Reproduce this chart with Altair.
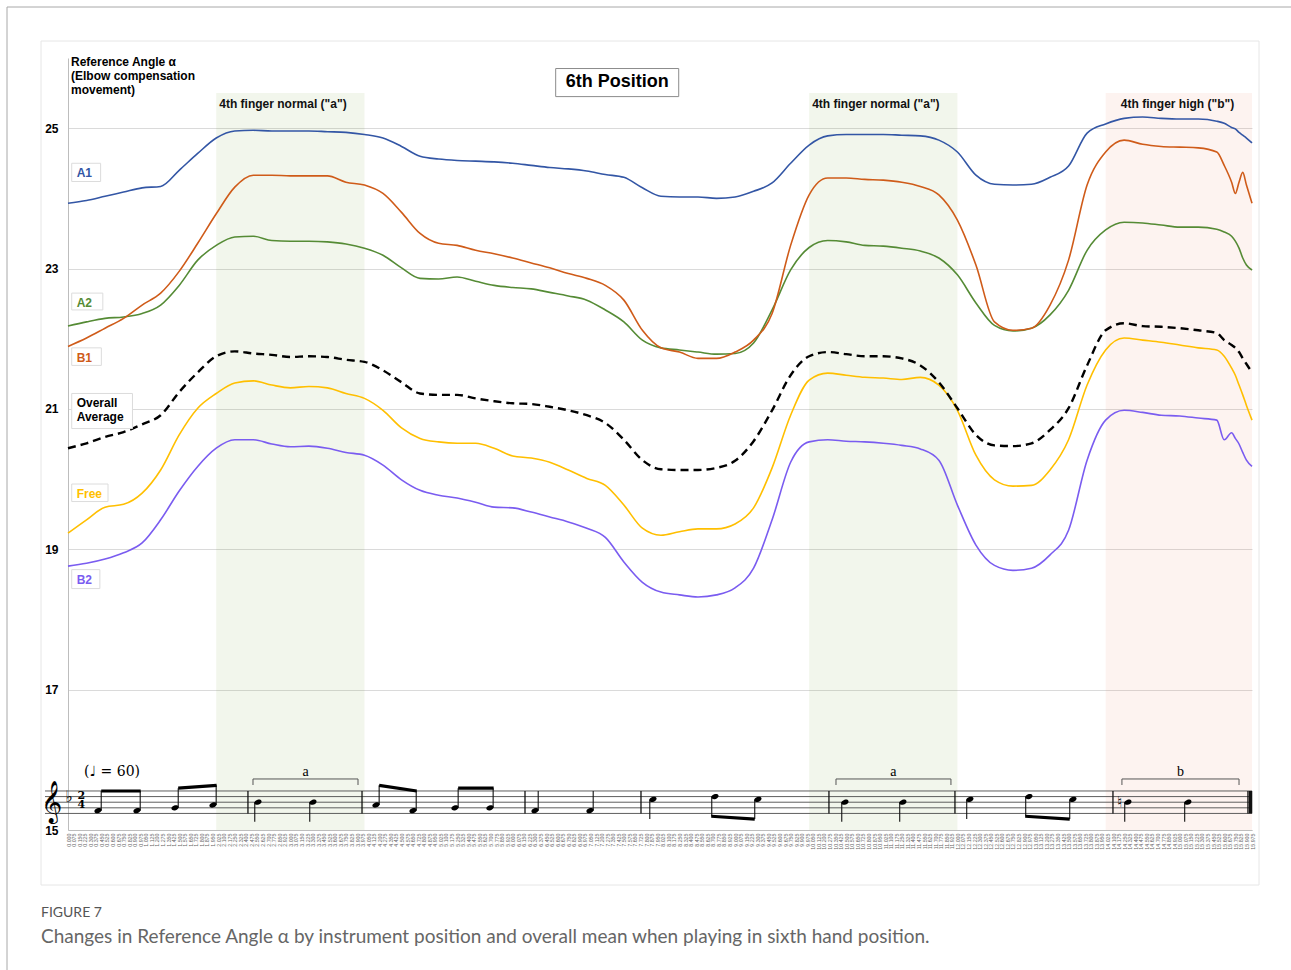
import altair as alt
import pandas as pd

# ---------------------------------------------------------------- data
seconds = [0.0, 0.25, 0.5, 0.75, 1.0, 1.25, 1.5, 1.75, 2.0, 2.25,
           2.5, 2.75, 3.0, 3.25, 3.5, 3.75, 4.0, 4.25, 4.5, 4.75,
           5.0, 5.25, 5.5, 5.75, 6.0, 6.25, 6.5, 6.75, 7.0, 7.25,
           7.5, 7.75, 8.0, 8.25, 8.5, 8.75, 9.0, 9.25, 9.5, 9.75,
           10.0, 10.25, 10.5, 10.75, 11.0, 11.25, 11.5, 11.75, 12.0, 12.25,
           12.5, 12.75, 13.0, 13.25, 13.5, 13.75, 14.0, 14.25, 14.5, 14.75,
           15.0, 15.25, 15.5, 15.6, 15.7, 15.75, 15.8, 15.85, 15.9, 15.975]

a1 = [23.93, 23.97, 24.03, 24.09, 24.15, 24.17, 24.40, 24.64, 24.86, 24.96,
      24.97, 24.96, 24.96, 24.96, 24.95, 24.94, 24.91, 24.86, 24.74, 24.60,
      24.56, 24.54, 24.53, 24.52, 24.50, 24.47, 24.44, 24.42, 24.39, 24.34,
      24.30, 24.15, 24.03, 24.02, 24.02, 24.00, 24.02, 24.10, 24.22, 24.50,
      24.76, 24.89, 24.91, 24.91, 24.91, 24.90, 24.89, 24.83, 24.66, 24.33,
      24.20, 24.19, 24.20, 24.30, 24.46, 24.93, 25.06, 25.14, 25.16, 25.14,
      25.13, 25.13, 25.10, 25.07, 25.01, 24.99, 24.94, 24.90, 24.86, 24.79]

b1 = [21.89, 22.01, 22.15, 22.29, 22.48, 22.65, 22.96, 23.36, 23.78, 24.16,
      24.33, 24.33, 24.32, 24.32, 24.32, 24.23, 24.19, 24.07, 23.80, 23.50,
      23.36, 23.33, 23.26, 23.21, 23.15, 23.08, 23.01, 22.93, 22.86, 22.76,
      22.55, 22.12, 21.87, 21.81, 21.72, 21.72, 21.81, 21.98, 22.36, 23.33,
      24.05, 24.29, 24.29, 24.27, 24.26, 24.23, 24.17, 24.05, 23.69, 23.05,
      22.24, 22.12, 22.15, 22.48, 23.12, 24.19, 24.66, 24.83, 24.77, 24.74,
      24.73, 24.72, 24.66, 24.47, 24.23, 24.07, 24.23, 24.37, 24.19, 23.93]

a2 = [22.18, 22.24, 22.29, 22.31, 22.36, 22.48, 22.76, 23.12, 23.33, 23.45,
      23.46, 23.40, 23.39, 23.39, 23.38, 23.35, 23.29, 23.19, 23.01, 22.86,
      22.85, 22.88, 22.82, 22.76, 22.73, 22.71, 22.66, 22.61, 22.55, 22.41,
      22.24, 21.98, 21.87, 21.84, 21.81, 21.78, 21.79, 21.94, 22.41, 22.98,
      23.30, 23.40, 23.38, 23.33, 23.32, 23.29, 23.25, 23.15, 22.91, 22.51,
      22.19, 22.11, 22.15, 22.34, 22.69, 23.26, 23.55, 23.66, 23.65, 23.62,
      23.59, 23.59, 23.56, 23.52, 23.46, 23.39, 23.29, 23.15, 23.05, 22.98]

overall = [20.44, 20.51, 20.60, 20.67, 20.78, 20.91, 21.24, 21.52, 21.75, 21.82,
           21.79, 21.77, 21.74, 21.75, 21.74, 21.70, 21.67, 21.55, 21.38, 21.22,
           21.20, 21.20, 21.15, 21.11, 21.08, 21.07, 21.03, 20.98, 20.91, 20.80,
           20.56, 20.27, 20.14, 20.13, 20.13, 20.16, 20.26, 20.54, 20.98, 21.48,
           21.75, 21.81, 21.78, 21.75, 21.75, 21.72, 21.62, 21.38, 21.01, 20.63,
           20.48, 20.47, 20.51, 20.70, 21.01, 21.62, 22.12, 22.22, 22.18, 22.17,
           22.15, 22.12, 22.08, 21.98, 21.91, 21.87, 21.81, 21.72, 21.64, 21.52]

free = [19.23, 19.42, 19.60, 19.64, 19.80, 20.13, 20.63, 21.01, 21.22, 21.37,
        21.40, 21.34, 21.30, 21.32, 21.30, 21.22, 21.15, 20.98, 20.73, 20.58,
        20.53, 20.51, 20.51, 20.44, 20.33, 20.30, 20.24, 20.13, 20.01, 19.91,
        19.63, 19.30, 19.20, 19.25, 19.29, 19.29, 19.36, 19.59, 20.16, 20.91,
        21.41, 21.51, 21.48, 21.45, 21.44, 21.42, 21.45, 21.34, 20.98, 20.34,
        19.99, 19.90, 19.91, 20.13, 20.56, 21.34, 21.84, 22.01, 21.98, 21.95,
        21.91, 21.87, 21.84, 21.75, 21.58, 21.48, 21.34, 21.20, 21.05, 20.84]

b2 = [18.76, 18.80, 18.86, 18.95, 19.09, 19.42, 19.83, 20.18, 20.44, 20.56,
      20.56, 20.50, 20.46, 20.47, 20.44, 20.38, 20.34, 20.20, 19.99, 19.84,
      19.77, 19.73, 19.67, 19.60, 19.59, 19.53, 19.46, 19.39, 19.30, 19.17,
      18.82, 18.53, 18.39, 18.35, 18.32, 18.35, 18.45, 18.73, 19.42, 20.24,
      20.53, 20.56, 20.54, 20.53, 20.51, 20.48, 20.43, 20.27, 19.63, 19.06,
      18.77, 18.70, 18.73, 18.92, 19.27, 20.27, 20.84, 20.98, 20.95, 20.91,
      20.90, 20.87, 20.84, 20.56, 20.66, 20.58, 20.50, 20.38, 20.27, 20.18]

series_names = ["A1", "A2", "B1", "Free", "B2"]
series_values = [a1, a2, b1, free, b2]
series_colors = ["#3356a5", "#558b35", "#cf5b19", "#ffbf00", "#7a5cf0"]

y_ticks = [15, 17, 19, 21, 23, 25]
x_ticks = [round(i * 0.075, 3) for i in range(214)]

# finger-position sections (seconds)
region_start = [2.0, 10.0, 14.0]
region_end = [4.0, 12.0, 15.975]
region_label = ['4th finger normal ("a")', '4th finger normal ("a")', '4th finger high ("b")']
region_label_x = [2.9, 10.9, 14.97]
region_fill = ["#7da541", "#7da541", "#eb8769"]

# series name tags drawn at the left edge
tag_text = ["A1", "A2", "B1", "Overall\nAverage", "Free", "B2"]
tag_color = ["#3356a5", "#558b35", "#cf5b19", "#000000", "#ffbf00", "#7a5cf0"]
tag_top = [24.50, 22.65, 21.87, 21.22, 19.93, 18.71]
tag_bottom = [24.24, 22.41, 21.62, 20.72, 19.68, 18.44]
tag_right = [0.44, 0.47, 0.45, 0.87, 0.54, 0.43]

# melody (F major, 2/4, quarter = 60): onset on the page (s), staff step above E4, stem direction
note_time = [0.405, 0.931, 1.444, 1.956, 2.563, 3.305, 4.155, 4.655, 5.221, 5.693,
             6.301, 7.043, 7.893, 8.729, 9.309, 10.483, 11.265, 12.169, 12.965, 13.559,
             14.301, 15.11]
note_step = [1, 1, 2, 3, 4, 4, 3, 1, 2, 2, 1, 1, 5, 6, 5, 4, 4, 5, 6, 5, 4, 4]
note_stem = ["up", "up", "up", "up", "down", "down", "up", "up", "up", "up",
             "up", "up", "down", "down", "down", "down", "down", "down", "down", "down",
             "down", "down"]
beam_pairs = [(0, 1), (2, 3), (6, 7), (8, 9), (13, 14), (18, 19)]
bar_time = [2.428, 3.967, 6.166, 7.731, 10.267, 11.967, 14.099, 15.92]
bracket_start = [2.496, 10.362, 14.22]
bracket_end = [3.913, 11.913, 15.80]
bracket_text = ["a", "a", "b"]

STAFF_BASE = 15.236   # bottom staff line on the angle axis
STEP = 0.04           # one diatonic step
STEM = 7              # stem length in steps

# ---------------------------------------------------------------- frames
rows = []
for name, vals, col in zip(series_names, series_values, series_colors):
    for t, v in zip(seconds, vals):
        rows.append({"series": name, "t": t, "v": v, "col": col})
lines_df = pd.DataFrame(rows)
avg_df = pd.DataFrame({"t": seconds, "v": overall})

regions_df = pd.DataFrame({"start": region_start, "end": region_end,
                           "lo": 15.0, "hi": 25.5, "fill": region_fill,
                           "label": region_label, "mid": region_label_x})
regions_df["ly"] = 25.35

tags_df = pd.DataFrame({"text": tag_text, "col": tag_color, "top": tag_top,
                        "bottom": tag_bottom, "right": tag_right})
tags_df["left"] = 0.05
tags_df["tx"] = 0.117
tags_df["ty"] = tags_df["top"] - 0.07

xs = alt.Scale(domain=[0, 15.975], nice=False, zero=False)
ys = alt.Scale(domain=[15, 26], nice=False, zero=False)

x_axis = alt.Axis(values=x_ticks, format=".3f", labelAngle=270, labelFontSize=5.3,
                  labelColor="#666666", labelOverlap=False, labelFlush=False,
                  labelPadding=3, ticks=False, grid=False, domainColor="#bdbdbd",
                  title=None)
y_axis = alt.Axis(values=y_ticks, labelFontSize=12, labelFontWeight="bold",
                  labelColor="#000000", labelPadding=10, ticks=False,
                  labelFont="Liberation Sans",
                  domainColor="#bdbdbd", gridColor="#dadada", title=None)


# every layer carries the same axis definition so the merged axes agree
def X(field):
    return alt.X(field, type="quantitative", scale=xs, axis=x_axis)


def Y(field):
    return alt.Y(field, type="quantitative", scale=ys, axis=y_axis)


one = pd.DataFrame({"k": [0]})

# page frame and caption (pixel positions relative to the plot origin)
frame_top = alt.Chart(one).mark_rule(color="#a8a8a8", strokeWidth=1).encode(
    x=alt.value(-61), x2=alt.value(1240), y=alt.value(-51))
frame_left = alt.Chart(one).mark_rule(color="#a8a8a8", strokeWidth=1).encode(
    x=alt.value(-61), y=alt.value(-51), y2=alt.value(930))
panel = alt.Chart(one).mark_rect(fillOpacity=0, stroke="#e6e6e6", strokeWidth=1).encode(
    x=alt.value(-27), x2=alt.value(1191), y=alt.value(-17), y2=alt.value(827))
fig_label = alt.Chart(one).mark_text(text="FIGURE 7", font="Lato", fontSize=14,
                                     color="#555555", align="left", baseline="middle").encode(
    x=alt.value(-27), y=alt.value(855))
caption = alt.Chart(one).mark_text(
    text="Changes in Reference Angle \u03b1 by instrument position and overall mean when playing in sixth hand position.",
    font="Lato", fontSize=19, color="#666666", align="left", baseline="middle").encode(
    x=alt.value(-27), y=alt.value(879))

# shaded sections
shade = alt.Chart(regions_df).mark_rect(opacity=0.1).encode(
    x=X("start:Q"), x2="end:Q", y=Y("lo:Q"), y2="hi:Q",
    color=alt.Color("fill:N", scale=None))
shade_text = alt.Chart(regions_df).mark_text(fontSize=12, fontWeight="bold",
                                             color="#111111", baseline="middle").encode(
    x=X("mid:Q"), y=Y("ly:Q"), text="label:N")

# ---------------------------------------------------------------- score
staff_df = pd.DataFrame({"step": [0, 2, 4, 6, 8]})
staff_df["y"] = STAFF_BASE + staff_df["step"] * STEP
staff_df["x1"] = -0.31
staff_df["x2"] = 15.975
staff = alt.Chart(staff_df).mark_rule(color="#4d4d4d", strokeWidth=0.9).encode(
    x=X("x1:Q"), x2="x2:Q", y=Y("y:Q"))

bars_df = pd.DataFrame({"t": bar_time})
bars_df["y1"] = STAFF_BASE
bars_df["y2"] = STAFF_BASE + 8 * STEP
bars = alt.Chart(bars_df).mark_rule(color="#111111", strokeWidth=1.3).encode(
    x=X("t:Q"), y=Y("y1:Q"), y2="y2:Q")
final_bar = alt.Chart(bars_df.tail(1).assign(t=15.955)).mark_rule(
    color="#111111", strokeWidth=3.5).encode(x=X("t:Q"), y=Y("y1:Q"), y2="y2:Q")

notes_df = pd.DataFrame({"t": note_time, "step": note_step, "stem": note_stem})
notes_df["y"] = STAFF_BASE + notes_df["step"] * STEP
notes_df["end"] = STAFF_BASE + (notes_df["step"] + notes_df["stem"].map({"up": STEM, "down": -STEM})) * STEP

ellipse = "M -1 0 A 1 0.66 0 1 1 1 0 A 1 0.66 0 1 1 -1 0 Z"
heads = alt.Chart(notes_df).mark_point(shape=ellipse, filled=True, size=56, angle=340,
                                       color="#000000", opacity=1).encode(
    x=X("t:Q"), y=Y("y:Q"))
stems_up = alt.Chart(notes_df[notes_df["stem"] == "up"]).mark_rule(
    color="#111111", strokeWidth=1.1, xOffset=3.2).encode(x=X("t:Q"), y=Y("y:Q"), y2="end:Q")
stems_down = alt.Chart(notes_df[notes_df["stem"] == "down"]).mark_rule(
    color="#111111", strokeWidth=1.1, xOffset=-3.2).encode(x=X("t:Q"), y=Y("y:Q"), y2="end:Q")

beam_rows = []
for i, j in beam_pairs:
    beam_rows.append({"t1": note_time[i], "t2": note_time[j],
                      "e1": notes_df["end"][i], "e2": notes_df["end"][j],
                      "stem": note_stem[i]})
beams_df = pd.DataFrame(beam_rows)
beams_up = alt.Chart(beams_df[beams_df["stem"] == "up"]).mark_rule(
    color="#000000", strokeWidth=3.2, xOffset=3.2, x2Offset=3.7).encode(
    x=X("t1:Q"), x2="t2:Q", y=Y("e1:Q"), y2="e2:Q")
beams_down = alt.Chart(beams_df[beams_df["stem"] == "down"]).mark_rule(
    color="#000000", strokeWidth=3.2, xOffset=-3.7, x2Offset=-3.2).encode(
    x=X("t1:Q"), x2="t2:Q", y=Y("e1:Q"), y2="e2:Q")

# clef, key signature, accidental
sym_df = pd.DataFrame({
    "t": [-0.22, 0.015, 14.19],
    "step": [3.8, 6.0, 4],
    "glyph": ["\U0001D11E", "\u266d", "\u266e"],
    "size": [36, 16, 15],
})
sym_df["y"] = STAFF_BASE + sym_df["step"] * STEP
symbols = alt.Chart(sym_df).mark_text(font="DejaVu Sans", color="#000000",
                                      baseline="middle", align="center").encode(
    x=X("t:Q"), y=Y("y:Q"), text="glyph:N",
    size=alt.Size("size:Q", scale=None))

# time signature 2/4, stacked in one text block
tsig_df = pd.DataFrame({"t": [0.18], "step": [8.35], "digits": ["2\n4"]})
tsig_df["y"] = STAFF_BASE + tsig_df["step"] * STEP
tsig = alt.Chart(tsig_df).mark_text(font="DejaVu Serif", fontSize=11, fontWeight="bold",
                                    color="#000000", baseline="top", lineBreak="\n",
                                    lineHeight=9).encode(
    x=X("t:Q"), y=Y("y:Q"), text="digits:N")

tempo_df = pd.DataFrame({"t": [0.594], "y": [15.826], "txt": ["(\u2669 = 60)"]})
tempo = alt.Chart(tempo_df).mark_text(font="DejaVu Serif", fontSize=14,
                                      color="#000000", baseline="middle").encode(
    x=X("t:Q"), y=Y("y:Q"), text="txt:N")

brk_df = pd.DataFrame({"s": bracket_start, "e": bracket_end, "txt": bracket_text})
brk_df["top"] = 15.727
brk_df["low"] = 15.641
brk_df["mid"] = (brk_df["s"] + brk_df["e"]) / 2
brk_df["ly"] = 15.826
brk_h = alt.Chart(brk_df).mark_rule(color="#555555", strokeWidth=1).encode(
    x=X("s:Q"), x2="e:Q", y=Y("top:Q"))
brk_l = alt.Chart(brk_df).mark_rule(color="#555555", strokeWidth=1).encode(
    x=X("s:Q"), y=Y("top:Q"), y2="low:Q")
brk_r = alt.Chart(brk_df).mark_rule(color="#555555", strokeWidth=1).encode(
    x=X("e:Q"), y=Y("top:Q"), y2="low:Q")
brk_t = alt.Chart(brk_df).mark_text(font="Liberation Serif", fontSize=14,
                                    color="#000000", baseline="middle").encode(
    x=X("mid:Q"), y=Y("ly:Q"), text="txt:N")

# ---------------------------------------------------------------- curves
curves = alt.Chart(lines_df).mark_line(strokeWidth=1.6, interpolate="monotone").encode(
    x=X("t:Q"), y=Y("v:Q"),
    color=alt.Color("col:N", scale=None), detail="series:N")
avg_line = alt.Chart(avg_df).mark_line(strokeWidth=2.4, color="#000000",
                                       strokeDash=[8, 5], interpolate="monotone").encode(
    x=X("t:Q"), y=Y("v:Q"))

tag_boxes = alt.Chart(tags_df).mark_rect(fill="#ffffff", stroke="#dcdcdc", strokeWidth=1).encode(
    x=X("left:Q"), x2="right:Q", y=Y("top:Q"), y2="bottom:Q")
tag_text_layer = alt.Chart(tags_df).mark_text(fontSize=12, fontWeight="bold", align="left",
                                              baseline="top", lineBreak="\n",
                                              lineHeight=14).encode(
    x=X("tx:Q"), y=Y("ty:Q"), text="text:N", color=alt.Color("col:N", scale=None))

title_df = pd.DataFrame({"x1": [6.58], "x2": [8.24], "y1": [25.85], "y2": [25.45],
                         "tx": [7.41], "ty": [25.66], "txt": ["6th Position"]})
title_box = alt.Chart(title_df).mark_rect(fill="#ffffff", stroke="#8c8c8c", strokeWidth=1).encode(
    x=X("x1:Q"), x2="x2:Q", y=Y("y1:Q"), y2="y2:Q")
title_txt = alt.Chart(title_df).mark_text(fontSize=18, fontWeight="bold", color="#000000",
                                          baseline="middle").encode(
    x=X("tx:Q"), y=Y("ty:Q"), text="txt:N")

ytitle_df = pd.DataFrame({"t": [0.04], "v": [26.02],
                          "txt": ["Reference Angle \u03b1\n(Elbow compensation\nmovement)"]})
ytitle = alt.Chart(ytitle_df).mark_text(fontSize=12, fontWeight="bold", color="#000000",
                                        align="left", baseline="top", lineBreak="\n",
                                        lineHeight=14).encode(
    x=X("t:Q"), y=Y("v:Q"), text="txt:N")

chart = alt.layer(
    frame_top, frame_left, panel, fig_label, caption,
    shade, curves, avg_line, shade_text,
    staff, bars, final_bar, stems_up, stems_down, beams_up, beams_down, heads,
    symbols, tsig, tempo, brk_h, brk_l, brk_r, brk_t,
    tag_boxes, tag_text_layer, title_box, title_txt, ytitle,
).properties(
    width=1184, height=772,
    autosize=alt.AutoSizeParams(type="none"),
    padding={"left": 68, "top": 58, "right": 39, "bottom": 140},
    background="#ffffff",
).configure_view(strokeWidth=0).configure_text(font="Liberation Sans")

chart.save("out.html", embed_options={"renderer": "svg", "actions": False})
